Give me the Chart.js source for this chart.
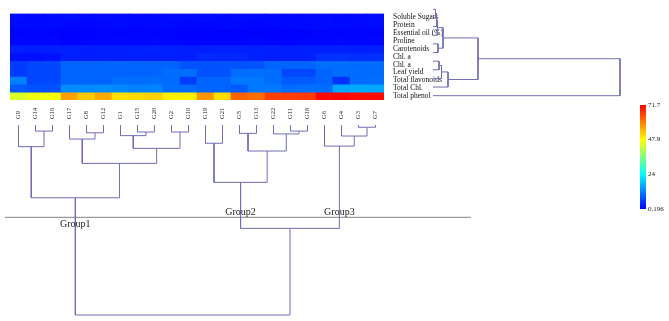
<!DOCTYPE html>
<html><head><meta charset="utf-8">
<script src="https://cdn.jsdelivr.net/npm/chart.js@4/dist/chart.umd.min.js"></script>
<style>
html,body{margin:0;padding:0;background:#fff;}
#wrap{position:relative;width:669px;height:321px;overflow:hidden;background:#fff;}
#wrap canvas{position:absolute;left:0;top:0;}
</style></head><body>
<div id="wrap">
<canvas id="heat" width="669" height="321"></canvas>
<canvas id="colTree" width="669" height="321"></canvas>
<canvas id="rowTree" width="669" height="321"></canvas>
<canvas id="cbar" width="669" height="321"></canvas>
</div>
<script>
// ---------------- DATA ----------------
const columns = ['G9','G14','G16','G17','G8','G12','G1','G15','G20','G2','G10','G19','G21','G5','G13','G22','G11','G18','G6','G4','G3','G7'];
const traits = ['Soluble Sugars','Protein','Essential oil (%)','Proline','Carotenoids','Chl. a','Chl. a','Leaf yield','Total flavonoids','Total Chl.','Total phenol'];

const solubleSugars   = [1.2,1.0,1.1,1.3,1.0,1.2,1.1,0.9,1.0,1.2,1.1,1.3,1.0,1.2,1.1,1.0,0.9,1.1,1.2,1.0,1.1,1.3];
const protein         = [1.0,0.9,1.0,0.8,0.7,0.9,1.0,0.8,0.9,1.0,0.8,0.7,0.9,1.0,0.8,0.9,1.0,0.9,1.1,1.0,0.9,1.0];
const essentialOil    = [0.6,0.5,0.6,0.3,0.4,0.5,0.6,0.5,0.6,0.5,0.3,0.3,0.4,0.3,0.4,0.3,0.3,0.4,0.5,0.6,0.5,0.6];
const proline         = [0.8,0.7,0.8,0.4,0.6,0.7,0.8,0.7,0.8,0.7,0.5,0.5,0.5,0.6,0.7,0.6,0.6,0.7,0.8,0.8,0.7,0.8];
const carotenoids     = [3.0,2.8,3.1,3.2,3.0,2.9,3.1,3.0,3.2,3.0,2.9,3.1,3.0,3.2,3.1,3.0,2.9,3.0,3.1,3.2,3.0,3.1];
const chlA1           = [1.6,1.5,1.8,3.0,2.8,3.0,2.9,3.0,2.8,3.1,3.0,4.0,3.8,3.9,3.0,2.9,3.0,3.1,4.6,4.8,4.5,4.7];
const chlA2           = [5.8,6.6,6.8,9.5,9.4,9.6,9.5,9.6,9.4,9.5,8.0,7.8,8.0,7.9,8.1,9.5,9.4,9.6,10.4,10.5,10.3,10.4];
const leafYield       = [5.8,6.6,6.6,9.5,9.5,9.6,9.4,9.5,9.6,10.4,10.5,7.8,7.9,10.4,10.5,10.4,6.8,6.9,9.5,10.4,10.5,10.3];
const totalFlavonoids = [12.3,6.8,6.9,9.5,9.6,9.4,10.5,10.4,10.6,10.3,5.8,9.5,9.6,11.4,11.5,10.4,8.6,8.7,9.5,4.9,10.4,10.5];
const totalChl        = [8.6,7.8,7.7,13.2,13.1,13.3,13.0,12.3,12.4,10.5,10.4,9.5,9.6,8.7,11.4,11.5,10.4,10.5,10.4,16.0,16.1,15.9];
const totalPhenol     = [44.5,46.5,46.8,56.6,52.7,56.0,50.8,51.3,52.2,49.3,49.5,57.6,51.0,62.5,61.5,65.8,66.0,66.3,70.8,71.2,70.4,70.6];
const heatRows = [solubleSugars,protein,essentialOil,proline,carotenoids,chlA1,chlA2,leafYield,totalFlavonoids,totalChl,totalPhenol];

const colorMin = 0.196, colorMax = 71.7;
const colorTickValues = [0.196, 24, 47.9, 71.7];
const colorTickLabels = ['0.196','24','47.9','71.7'];

// column dendrogram linkage: [childA, childB, height]; leaves 0..21, merge k -> id 22+k
const colLinkage = [
  [20,21,1.2],[1,2,3.2],[16,17,3.2],[7,8,3.7],[9,10,3.7],[4,5,4.1],[13,14,4.4],
  [15,24,4.7],[6,25,5.6],[19,22,5.8],[3,27,7.4],[11,12,9.6],[18,31,11.1],[0,23,11.4],
  [30,26,12.3],[28,29,13.7],[32,36,20.2],[33,37,30.2],[35,38,38.3],[39,34,54.4],[40,41,100]
];
const colTreeMax = 100;
const cutHeight = 48.6;
const groupNames = ['Group1','Group2','Group3'];
const groupNodes = [40,39,34];

// row dendrogram linkage: leaves 0..10, merge k -> id 11+k
const rowLinkage = [
  [0,1,2.5],[11,2,3.5],[12,3,4.5],[4,5,5],[13,14,10],
  [6,7,6],[16,8,8.5],[17,9,15],[15,18,45],[19,10,187]
];
const rowTreeMax = 187;

// ---------------- STYLE / LAYOUT ----------------
const W = 669, H = 321;
const heatBox = {left:10, top:5, right:384, bottom:100};
const colTreeBox = {top:125, bottom:315};
const rowTreeBox = {left:433, right:620};
const cbarBox = {left:640, right:646, top:105, bottom:209};
const cutSpan = [-0.8, 26.6];
const treeColor = '#6e6eb6';
const serif = '"Liberation Serif", "Times New Roman", serif';
const colorStops = [[0,[0,0,255]],[1/3,[0,255,255]],[2/3,[255,255,0]],[1,[255,0,0]]];

function colorFor(v){
  let t = (v-colorMin)/(colorMax-colorMin); t = Math.max(0,Math.min(1,t));
  for(let i=1;i<colorStops.length;i++){
    const [t1,c1]=colorStops[i-1],[t2,c2]=colorStops[i];
    if(t<=t2){ const f=(t-t1)/(t2-t1);
      return `rgb(${c1.map((c,j)=>Math.round(c+(c2[j]-c)*f)).join(',')})`; }
  }
  return 'rgb(255,0,0)';
}
function treeSegments(n, linkage){
  const pos=[],h=[],segs=[];
  for(let i=0;i<n;i++){pos[i]=i;h[i]=0;}
  linkage.forEach(([a,b,hh],k)=>{
    const id=n+k; pos[id]=(pos[a]+pos[b])/2; h[id]=hh;
    segs.push([[pos[a],h[a]],[pos[a],hh],[pos[b],hh],[pos[b],h[b]]]);
  });
  return {pos,h,segs};
}
const noInter = {responsive:false, animation:false, events:[], plugins:{legend:{display:false}, tooltip:{enabled:false}}};

// ---------------- HEATMAP ----------------
const colLabelPlugin = {
  id:'colLabels',
  afterDraw(chart){
    const ctx=chart.ctx, xs=chart.scales.x;
    ctx.save(); ctx.font='6.5px '+serif; ctx.fillStyle='#222';
    ctx.textAlign='left'; ctx.textBaseline='middle';
    columns.forEach((c,i)=>{
      ctx.save(); ctx.translate(xs.getPixelForValue(i), chart.chartArea.bottom+19);
      ctx.rotate(-Math.PI/2); ctx.fillText(c,0,0); ctx.restore();
    });
    ctx.restore();
  }
};
const yLabelWidth = 60;
new Chart(document.getElementById('heat'), {
  type:'bar',
  data:{labels:columns, datasets: heatRows.map((vals,r)=>({
    label:traits[r], data: vals.map(()=>1), backgroundColor: vals.map(colorFor),
    borderWidth:0, barPercentage:1, categoryPercentage:1 }))},
  options:Object.assign({}, noInter, {
    layout:{padding:{left:heatBox.left, top:heatBox.top, bottom:H-heatBox.bottom, right:W-heatBox.right-yLabelWidth}},
    scales:{
      x:{type:'category', stacked:true, display:false},
      y:{type:'linear', min:0, max:traits.length, reverse:true, stacked:true, position:'right',
         grid:{display:false, drawTicks:false}, border:{display:false},
         ticks:{padding:9, autoSkip:false, color:'#111', font:{family:serif, size:7.5},
                callback:(v,i)=>traits[i]},
         afterBuildTicks:(s)=>{ s.ticks = traits.map((t,i)=>({value:i+0.5})); },
         afterFit:(s)=>{ s.width = yLabelWidth; } }
    }
  }),
  plugins:[colLabelPlugin]
});

// ---------------- COLUMN DENDROGRAM ----------------
const colTree = treeSegments(columns.length, colLinkage);
const groupPlugin = {
  id:'groups',
  afterDatasetsDraw(chart){
    const ctx=chart.ctx, xs=chart.scales.x, ys=chart.scales.y;
    const yc = ys.getPixelForValue(cutHeight);
    ctx.save(); ctx.font='10px '+serif; ctx.fillStyle='#222'; ctx.textAlign='center'; ctx.textBaseline='middle';
    groupNames.forEach((g,i)=>{
      const x = xs.getPixelForValue(colTree.pos[groupNodes[i]]);
      ctx.fillText(g, x, i===0 ? yc+7 : yc-5);
    });
    ctx.restore();
  }
};
new Chart(document.getElementById('colTree'), {
  type:'scatter',
  data:{datasets: colTree.segs.map(s=>({
      data:s.map(([p,hh])=>({x:p,y:hh})), showLine:true, borderColor:treeColor, borderWidth:1,
      pointRadius:0, pointHoverRadius:0, tension:0, clip:false, fill:false }))
    .concat([{ data:[{x:cutSpan[0],y:cutHeight},{x:cutSpan[1],y:cutHeight}], showLine:true,
      borderColor:'#9a9a9a', borderWidth:1.3, pointRadius:0, pointHoverRadius:0, clip:false, fill:false }])},
  options:Object.assign({}, noInter, {
    layout:{padding:{left:heatBox.left, right:W-heatBox.right, top:colTreeBox.top, bottom:H-colTreeBox.bottom}},
    scales:{ x:{type:'linear', min:-0.5, max:columns.length-0.5, display:false},
             y:{type:'linear', min:0, max:colTreeMax, reverse:true, display:false} }
  }),
  plugins:[groupPlugin]
});

// ---------------- ROW DENDROGRAM ----------------
const rowTree = treeSegments(traits.length, rowLinkage);
new Chart(document.getElementById('rowTree'), {
  type:'scatter',
  data:{datasets: rowTree.segs.map(s=>({
      data:s.map(([p,hh])=>({x:hh,y:p})), showLine:true, borderColor:treeColor, borderWidth:1,
      pointRadius:0, pointHoverRadius:0, tension:0, clip:false, fill:false }))},
  options:Object.assign({}, noInter, {
    layout:{padding:{left:rowTreeBox.left, right:W-rowTreeBox.right, top:heatBox.top, bottom:H-heatBox.bottom}},
    scales:{ x:{type:'linear', min:0, max:rowTreeMax, display:false},
             y:{type:'linear', min:-0.5, max:traits.length-0.5, reverse:true, display:false} }
  })
});

// ---------------- COLOR BAR ----------------
const cbarLabelWidth = 23;
new Chart(document.getElementById('cbar'), {
  type:'bar',
  data:{labels:[''], datasets:[{ data:[[colorMin,colorMax]], borderWidth:0, barPercentage:1, categoryPercentage:1,
    backgroundColor:(c)=>{ const a=c.chart.chartArea; if(!a) return 'blue';
      const g=c.chart.ctx.createLinearGradient(0,a.bottom,0,a.top);
      colorStops.forEach(([t,rgb])=>g.addColorStop(t,`rgb(${rgb.join(',')})`)); return g; } }]},
  options:Object.assign({}, noInter, {
    layout:{padding:{left:cbarBox.left, top:cbarBox.top, bottom:H-cbarBox.bottom, right:W-cbarBox.right-cbarLabelWidth}},
    scales:{
      x:{display:false},
      y:{type:'linear', min:colorMin, max:colorMax, position:'right',
         grid:{display:false, drawTicks:false}, border:{display:false},
         ticks:{padding:2, autoSkip:false, color:'#222', font:{family:serif, size:7},
                callback:(v,i)=>colorTickLabels[i]},
         afterBuildTicks:(s)=>{ s.ticks = colorTickValues.map(v=>({value:v})); },
         afterFit:(s)=>{ s.width = cbarLabelWidth; } }
    }
  })
});
</script>
</body></html>
